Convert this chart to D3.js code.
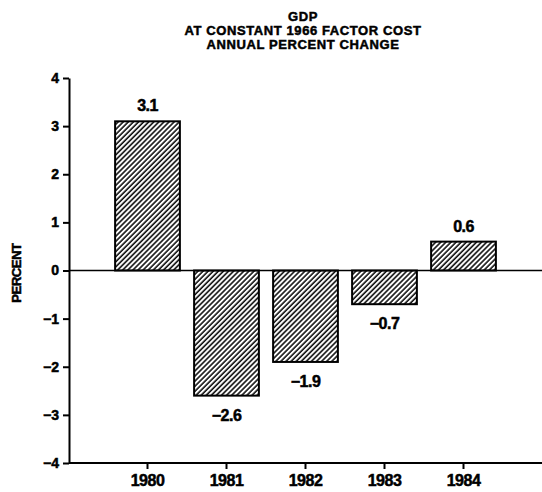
<!DOCTYPE html>
<html>
<head>
<meta charset="utf-8">
<script src="https://cdn.jsdelivr.net/npm/d3@7"></script>
<style>
  body { margin: 0; background: #fff; }
  svg text { font-family: "Liberation Sans", Arial, sans-serif; font-weight: bold; fill: #000; stroke: #000; stroke-width: 0.5; }
</style>
</head>
<body>
<div id="chart"></div>
<script>
const years = ['1980', '1981', '1982', '1983', '1984'];
const changes = [3.1, -2.6, -1.9, -0.7, 0.6];
const yTicks = [-4, -3, -2, -1, 0, 1, 2, 3, 4];
const titleLines = ['GDP', 'AT CONSTANT 1966 FACTOR COST', 'ANNUAL PERCENT CHANGE'];

const width = 542, height = 492;
const margin = {top: 78, right: 0, bottom: 29, left: 69};
const ch = height - margin.top - margin.bottom;
const cw = width - margin.left - margin.right;

const fmt = d => (d < 0 ? '\u2212' : '') + Math.abs(d);

const svg = d3.select('#chart').append('svg').attr('width', width).attr('height', height);

// hatch fill
svg.append('defs').append('pattern')
  .attr('id', 'hatch')
  .attr('patternUnits', 'userSpaceOnUse')
  .attr('width', 3.6).attr('height', 3.6)
  .attr('patternTransform', 'rotate(45)')
  .append('line')
  .attr('x1', 1).attr('y1', 0).attr('x2', 1).attr('y2', 3.6)
  .attr('stroke', '#000').attr('stroke-width', 1.5);

const g = svg.append('g').attr('transform', `translate(${margin.left}, ${margin.top})`);

const xScale = d3.scaleBand().domain(years).range([39, 434]).paddingInner(0.18).paddingOuter(0.09);
const yScale = d3.scaleLinear().domain([-4, 4]).range([ch, 0]);

// title
svg.append('g').selectAll('text')
  .data(titleLines)
  .join('text')
  .attr('x', 303)
  .attr('y', (d, i) => 21 + i * 14)
  .attr('text-anchor', 'middle')
  .attr('font-size', 13)
  .attr('letter-spacing', 0.6)
  .text(d => d);

// y axis
const yAxisCall = d3.axisLeft(yScale).tickValues(yTicks).tickFormat(fmt).tickSize(6).tickSizeOuter(0).tickPadding(4);
g.append('g').attr('class', 'y-axis').call(yAxisCall)
  .call(a => a.selectAll('path, line').attr('stroke', '#000').attr('stroke-width', 2))
  .call(a => a.selectAll('text').attr('font-size', 14).attr('font-family', null));

svg.append('text')
  .attr('transform', `translate(21, 273) rotate(-90)`)
  .attr('text-anchor', 'middle')
  .attr('font-size', 13)
  .attr('letter-spacing', -0.4)
  .text('PERCENT');

// x axis
const xAxisCall = d3.axisBottom(xScale).tickSize(6).tickSizeOuter(0).tickPadding(6);
g.append('g').attr('class', 'x-axis').attr('transform', `translate(0, ${ch})`).call(xAxisCall)
  .call(a => a.select('.domain').remove())
  .call(a => a.selectAll('line').attr('stroke', '#000').attr('stroke-width', 2))
  .call(a => a.selectAll('text').attr('font-size', 16).attr('letter-spacing', -0.5).attr('font-family', null));

g.append('line')
  .attr('x1', 0).attr('x2', cw)
  .attr('y1', ch).attr('y2', ch)
  .attr('stroke', '#000').attr('stroke-width', 2);

// bars
g.append('g').selectAll('rect')
  .data(changes)
  .join('rect')
  .attr('x', (d, i) => xScale(years[i]))
  .attr('y', d => yScale(Math.max(0, d)))
  .attr('width', xScale.bandwidth())
  .attr('height', d => Math.abs(yScale(d) - yScale(0)))
  .attr('fill', 'url(#hatch)')
  .attr('stroke', '#000')
  .attr('stroke-width', 2);

// zero line
g.append('line')
  .attr('x1', 0).attr('x2', cw)
  .attr('y1', yScale(0)).attr('y2', yScale(0))
  .attr('stroke', '#000').attr('stroke-width', 1.5);

// value labels
g.append('g').selectAll('text')
  .data(changes)
  .join('text')
  .attr('x', (d, i) => xScale(years[i]) + xScale.bandwidth() / 2)
  .attr('y', d => d >= 0 ? yScale(d) - 10 : yScale(d) + 25)
  .attr('text-anchor', 'middle')
  .attr('font-size', 16)
  .attr('letter-spacing', -0.5)
  .text(fmt);
</script>
</body>
</html>
